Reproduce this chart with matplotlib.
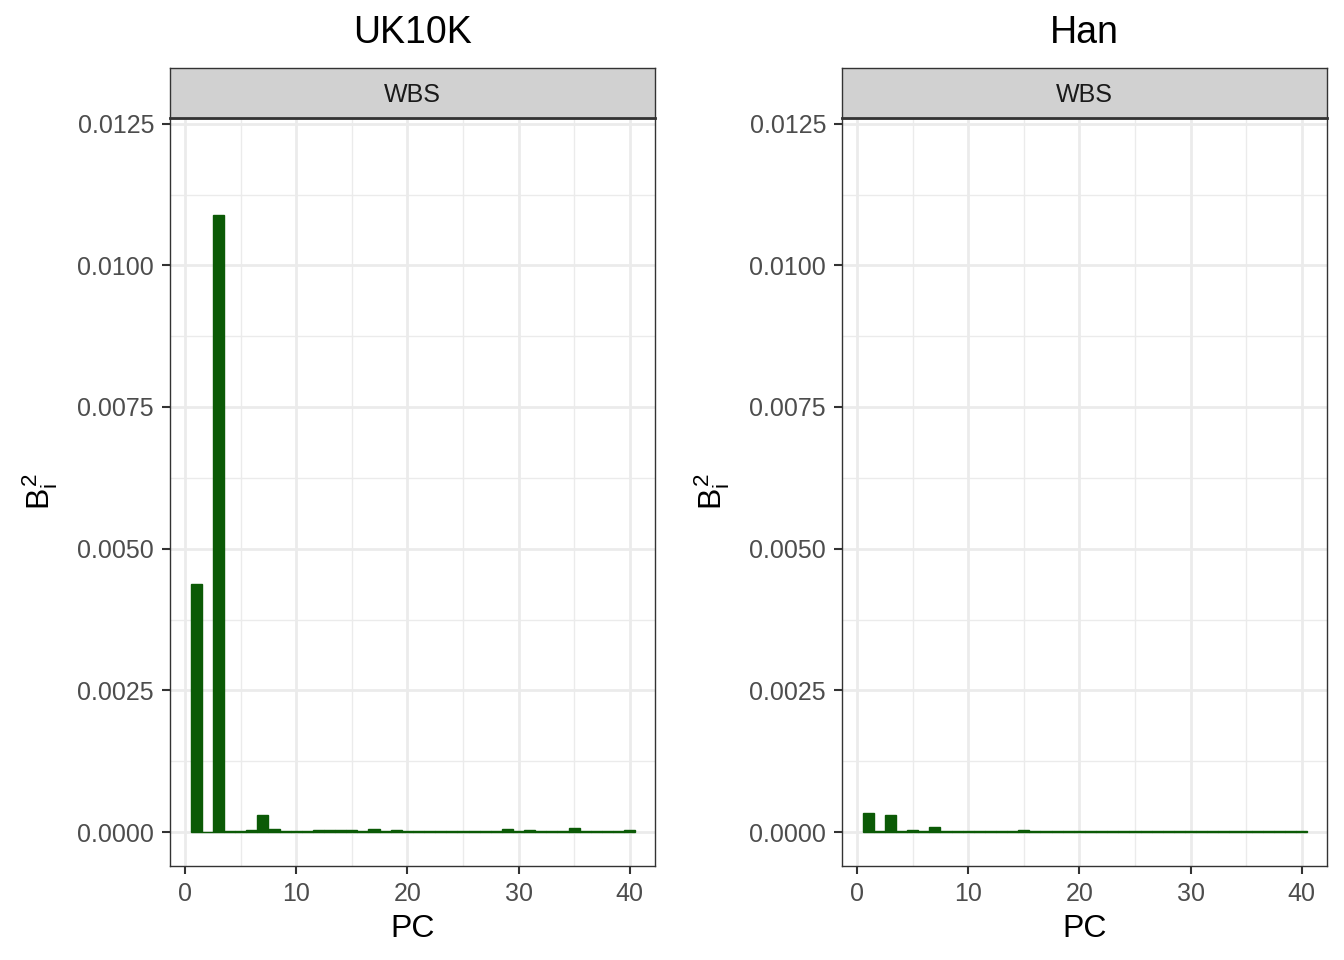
import matplotlib
matplotlib.use("Agg")
import matplotlib.pyplot as plt
import numpy as np

plt.rcParams['font.family'] = ['Liberation Sans', 'DejaVu Sans']
plt.rcParams['mathtext.fontset'] = 'custom'
plt.rcParams['mathtext.rm'] = 'Liberation Sans'
plt.rcParams['mathtext.it'] = 'Liberation Sans'

# PC index and squared B values
pc = np.arange(1, 41)

uk10k = [0.00438, 0.000005, 0.01088, 0.00001, 0.00002, 0.00004, 0.00030, 0.00005,
         0.00002, 0.00002, 0.00001, 0.00004, 0.00003, 0.00003, 0.00003, 0.00002,
         0.00005, 0.00002, 0.00003, 0.00002, 0.00001, 0.00001, 0.00001, 0.00001,
         0.00001, 0.00001, 0.00001, 0.00001, 0.00005, 0.00002, 0.00004, 0.00001,
         0.00001, 0.00002, 0.00007, 0.00001, 0.00001, 0.00001, 0.00001, 0.00004]

han = [0.000335, 0.00002, 0.00030, 0.00001, 0.00003, 0.00001, 0.00009, 0.00001,
       0.00001, 0.00001, 0.00001, 0.00001, 0.00001, 0.00001, 0.00004, 0.00001,
       0.00002, 0.00001, 0.00001, 0.00001, 0.00002, 0.00001, 0.00001, 0.00001,
       0.00002, 0.00001, 0.00001, 0.00001, 0.00001, 0.00001, 0.00001, 0.00001,
       0.00001, 0.00001, 0.00001, 0.00002, 0.00001, 0.00001, 0.00001, 0.00001]

titles = ["UK10K", "Han"]
strip_label = "WBS"
yticks = [0, 0.0025, 0.005, 0.0075, 0.01, 0.0125]
xticks = [0, 10, 20, 30, 40]

bar_col = '#0b5a06'
grey20 = '#333333'

fig = plt.figure(figsize=(13.44, 9.6), dpi=100)

lefts = [170 / 1344, 842 / 1344]
w = 485 / 1344
bottom = 1 - 866 / 960
h = (866 - 118) / 960
strip_h = 50 / 960

for left, vals, title in zip(lefts, [uk10k, han], titles):
    ax = fig.add_axes([left, bottom, w, h])
    ax.bar(pc, vals, width=1.0, color=bar_col, edgecolor=bar_col, linewidth=1.0, zorder=3)
    ax.set_xlim(-1.35, 42.27)
    ax.set_ylim(-0.0006, 0.0126)
    ax.set_xticks(xticks)
    ax.set_yticks(yticks)
    ax.set_yticklabels(["%.4f" % v for v in yticks])
    ax.set_xticks([5, 15, 25, 35], minor=True)
    ax.set_yticks([0.00125, 0.00375, 0.00625, 0.00875, 0.01125], minor=True)
    ax.grid(which='major', color='#ebebeb', linewidth=2.0, zorder=0)
    ax.grid(which='minor', color='#ebebeb', linewidth=1.0, zorder=0)
    ax.set_axisbelow(True)
    ax.tick_params(which='minor', length=0)
    ax.tick_params(which='major', length=6, width=1.5, color=grey20,
                   labelsize=18, labelcolor='#4d4d4d', pad=5.5)
    for s in ax.spines.values():
        s.set_color(grey20)
        s.set_linewidth(1.0)
    ax.set_xlabel("PC", fontsize=23, labelpad=6)
    ax.set_ylabel(r"$B_i^2$", fontsize=23, labelpad=12)

    sax = fig.add_axes([left, bottom + h, w, strip_h])
    sax.set_facecolor('#d1d1d1')
    sax.set_xticks([])
    sax.set_yticks([])
    for s in sax.spines.values():
        s.set_color(grey20)
        s.set_linewidth(1.0)
    sax.spines['bottom'].set_linewidth(2.0)
    sax.text(0.5, 0.46, strip_label, ha='center', va='center', fontsize=18,
             color='#1a1a1a', transform=sax.transAxes)

    fig.text(left + w / 2, 1 - 33 / 960, title, ha='center', va='center', fontsize=27)

fig.savefig("out.png", dpi=100)
